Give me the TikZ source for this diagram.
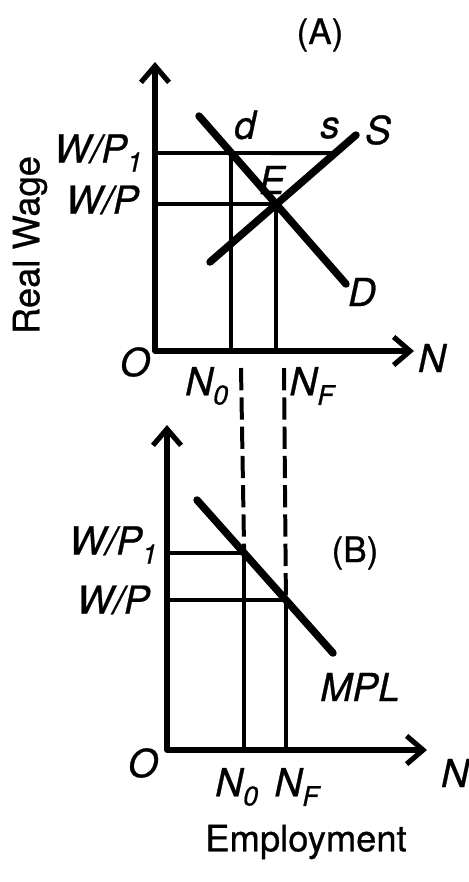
\documentclass[tikz,border=0pt]{standalone}
\usepackage{fontspec}
\setmainfont{TeX Gyre Heros}[FakeBold=0.7]
\usetikzlibrary{arrows.meta, positioning, calc}

\begin{document}
\begin{tikzpicture}[
    x=0.03cm, y=-0.03cm,
    axis/.style={line width=4.4pt, line join=round},
    curve/.style={line width=6.4pt, line cap=round},
    guide/.style={line width=3.4pt},
    drop/.style={line width=3.4pt, dash pattern=on 19pt off 6pt},
    lab/.style={font=\fontsize{33}{38}\selectfont\itshape, inner sep=0pt},
    title/.style={font=\fontsize{30}{34}\selectfont, inner sep=0pt},
    bigtitle/.style={font=\fontsize{31}{36}\selectfont, inner sep=0pt},
    >={Straight Barb[length=14pt, width=24pt]}
]
\useasboundingbox (0,0) rectangle (469,882);

% panel A
\coordinate (OA) at (155,351);
\coordinate (yA) at (155,62);
\coordinate (xA) at (414,351);
\coordinate (Dtop) at (199,116);
\coordinate (Dbot) at (346,284);
\coordinate (Sbot) at (210,262);
\coordinate (Stop) at (356,135);
\coordinate (w1A) at (155,153);
\coordinate (E) at (intersection of Dtop--Dbot and Sbot--Stop);
\coordinate (dA) at (intersection of Dtop--Dbot and w1A--{(400,153)});
\coordinate (sA) at (intersection of Sbot--Stop and w1A--{(400,153)});

\draw[axis, <->] (yA) -- (OA) -- (xA);
\draw[guide] (w1A) -- (sA);
\draw[guide] (OA |- E) -- (E);
\draw[guide] (dA) -- (dA |- OA);
\draw[guide] (E) -- (E |- OA);
\draw[curve] (Dtop) -- (Dbot);
\draw[curve] (Sbot) -- (Stop);

\node[title] (tA) at (320,35) {(A)};
\node[bigtitle, rotate=90] (rw) at (30,245) {Real Wage};
\node[lab, anchor=east] (w1Alab) at (143,153) {W/P\textsubscript{1}};
\node[lab, anchor=east] (wAlab) at (139,200) {W/P};
\node[lab] (dlab) at (245,125) {d};
\node[lab] (slab) at (330,128) {s};
\node[lab] (Slab) at (378,130) {S};
\node[lab] (Elab) at (272,180) {E};
\node[lab] (Dlab) at (362,292) {D};
\node[lab] (OAlab) at (135,362) {O};
\node[lab] (NAlab) at (432,358) {N};
\node[lab] (n0A) at (207,386) {N\textsubscript{0}};
\node[lab] (nfA) at (312,386) {N\textsubscript{F}};

% panel B
\coordinate (OB) at (167,750);
\coordinate (yB) at (167,425);
\coordinate (xB) at (427,750);
\coordinate (Mtop) at (197,500);
\coordinate (Mbot) at (333,653);
\coordinate (dB) at (intersection of Mtop--Mbot and {(167,553)}--{(400,553)});
\coordinate (eB) at (intersection of Mtop--Mbot and {(167,600)}--{(400,600)});
\coordinate (cut0) at (241,368);
\coordinate (cutF) at (284,368);

\draw[axis, <->] (yB) -- (OB) -- (xB);
\draw[guide] (OB |- dB) -- (dB) -- (dB |- OB);
\draw[guide] (OB |- eB) -- (eB) -- (eB |- OB);
\draw[curve] (Mtop) -- (Mbot);
\draw[drop] (cut0) -- (dB);
\draw[drop] (cutF) -- (eB);

\node[lab, anchor=east] (w1Blab) at (158,545) {W/P\textsubscript{1}};
\node[lab, anchor=east] (wBlab) at (150,600) {W/P};
\node[title] (tB) at (355,553) {(B)};
\node[lab] (mpl) at (360,687) {MPL};
\node[lab] (OBlab) at (143,763) {O};
\node[lab] (NBlab) at (455,773) {N};
\node[lab] (n0B) at (237,787) {N\textsubscript{0}};
\node[lab] (nfB) at (297,787) {N\textsubscript{F}};
\node[bigtitle] (emp) at (306,842) {Employment};
\end{tikzpicture}
\end{document}
